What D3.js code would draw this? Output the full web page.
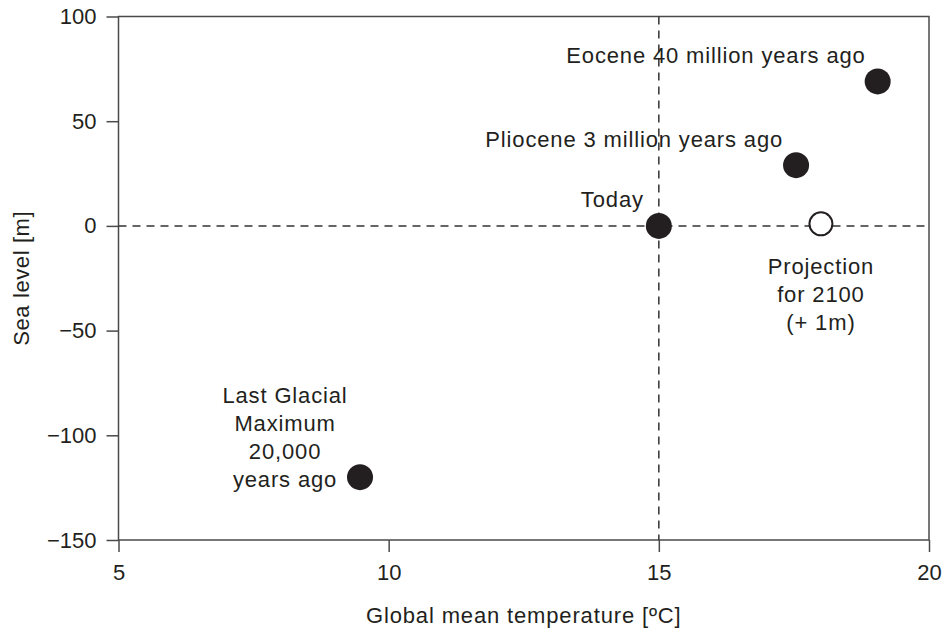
<!DOCTYPE html>
<html>
<head>
<meta charset="utf-8">
<script src="https://cdn.jsdelivr.net/npm/d3@7"></script>
<style>
  html, body { margin: 0; padding: 0; background: #fff; }
  svg text { font-family: "Liberation Sans", Arial, Helvetica, sans-serif; fill: #231f20; }
</style>
</head>
<body>
<svg id="chart" width="945" height="635"></svg>
<script>
// Sea level vs. global mean temperature across climate eras
const eras = ["Eocene", "Pliocene", "Today", "Projection", "LGM"];
const temperatures = [19.05, 17.54, 15, 18, 9.47];   // °C
const seaLevels = [69, 29, 0, 1, -120];              // m
const filled = [true, true, true, false, true];
const eraLabels = [
  ["Eocene 40 million years ago"],
  ["Pliocene 3 million years ago"],
  ["Today"],
  ["Projection", "for 2100", "(+ 1m)"],
  ["Last Glacial", "Maximum", "20,000", "years ago"]
];
const xTicks = [5, 10, 15, 20];
const yTicks = [100, 50, 0, -50, -100, -150];
const xTitle = "Global mean temperature [ºC]";
const yTitle = "Sea level [m]";

const svg = d3.select("#chart");
const plotLeft = 118.5, plotRight = 929, plotTop = 16.5, plotBottom = 540;
const ink = "#231f20", axisInk = "#4a4a4a";
const fontSize = 22, spacing = 0.85;

const x = d3.scaleLinear().domain([5, 20]).range([plotLeft, plotRight]);
const y = d3.scaleLinear().domain([-150, 100]).range([plotBottom, plotTop]);

// Frame
svg.append("rect")
  .attr("x", plotLeft).attr("y", plotTop)
  .attr("width", plotRight - plotLeft).attr("height", plotBottom - plotTop)
  .attr("fill", "none").attr("stroke", axisInk).attr("stroke-width", 1.5);

// Axes (ticks outward)
const xAxis = d3.axisBottom(x).tickValues(xTicks).tickSize(12).tickPadding(12).tickFormat(d3.format("d"));
const yAxis = d3.axisLeft(y).tickValues(yTicks).tickSize(12).tickPadding(10)
  .tickFormat(d => d < 0 ? "\u2212" + Math.abs(d) : String(d));

const gx = svg.append("g").attr("transform", `translate(0,${plotBottom})`).call(xAxis);
const gy = svg.append("g").attr("transform", `translate(${plotLeft},0)`).call(yAxis);
[gx, gy].forEach(g => {
  g.select(".domain").remove();
  g.selectAll(".tick line").attr("stroke", axisInk).attr("stroke-width", 1.5);
  g.selectAll(".tick text").attr("font-size", fontSize).attr("fill", ink)
    .style("font-family", '"Liberation Sans", Arial, sans-serif');
});
gx.selectAll(".tick text").attr("dy", "0.72em");

// Reference lines at today's values
svg.append("line")
  .attr("x1", plotLeft).attr("x2", plotRight).attr("y1", y(0)).attr("y2", y(0))
  .attr("stroke", "#333").attr("stroke-width", 1.5).attr("stroke-dasharray", "8,6");
svg.append("line")
  .attr("x1", x(15)).attr("x2", x(15)).attr("y1", plotTop).attr("y2", plotBottom)
  .attr("stroke", "#333").attr("stroke-width", 1.5).attr("stroke-dasharray", "8,6");

// Points
const pts = eras.map((e, i) => ({ era: e, t: temperatures[i], s: seaLevels[i], filled: filled[i], lines: eraLabels[i] }));
svg.append("g").selectAll("circle").data(pts).join("circle")
  .attr("cx", d => x(d.t)).attr("cy", d => y(d.s))
  .attr("r", d => d.filled ? 13 : 11.5)
  .attr("fill", d => d.filled ? ink : "#fff")
  .attr("stroke", ink).attr("stroke-width", d => d.filled ? 0 : 2);

// Annotation placement relative to each point
const labelPlacement = {
  Eocene:     { dx: -12, dy: -18, anchor: "end" },
  Pliocene:   { dx: -13, dy: -18, anchor: "end" },
  Today:      { dx: -15, dy: -19, anchor: "end" },
  Projection: { dx: 0,   dy: 50,  anchor: "middle" },
  LGM:        { dx: -75, dy: -74, anchor: "middle" }
};
const lineGap = 28;
pts.forEach(d => {
  const p = labelPlacement[d.era];
  const t = svg.append("text")
    .attr("x", x(d.t) + p.dx).attr("y", y(d.s) + p.dy)
    .attr("text-anchor", p.anchor)
    .attr("font-size", fontSize).attr("letter-spacing", spacing);
  d.lines.forEach((ln, k) => {
    t.append("tspan").attr("x", x(d.t) + p.dx).attr("dy", k === 0 ? 0 : lineGap).text(ln);
  });
});

// Axis titles
svg.append("text")
  .attr("x", (plotLeft + plotRight) / 2).attr("y", 623)
  .attr("text-anchor", "middle").attr("font-size", fontSize).attr("letter-spacing", spacing)
  .text(xTitle);
svg.append("text")
  .attr("transform", `translate(29,${(plotTop + plotBottom) / 2}) rotate(-90)`)
  .attr("text-anchor", "middle").attr("font-size", fontSize).attr("letter-spacing", 0.6)
  .text(yTitle);
</script>
</body>
</html>
